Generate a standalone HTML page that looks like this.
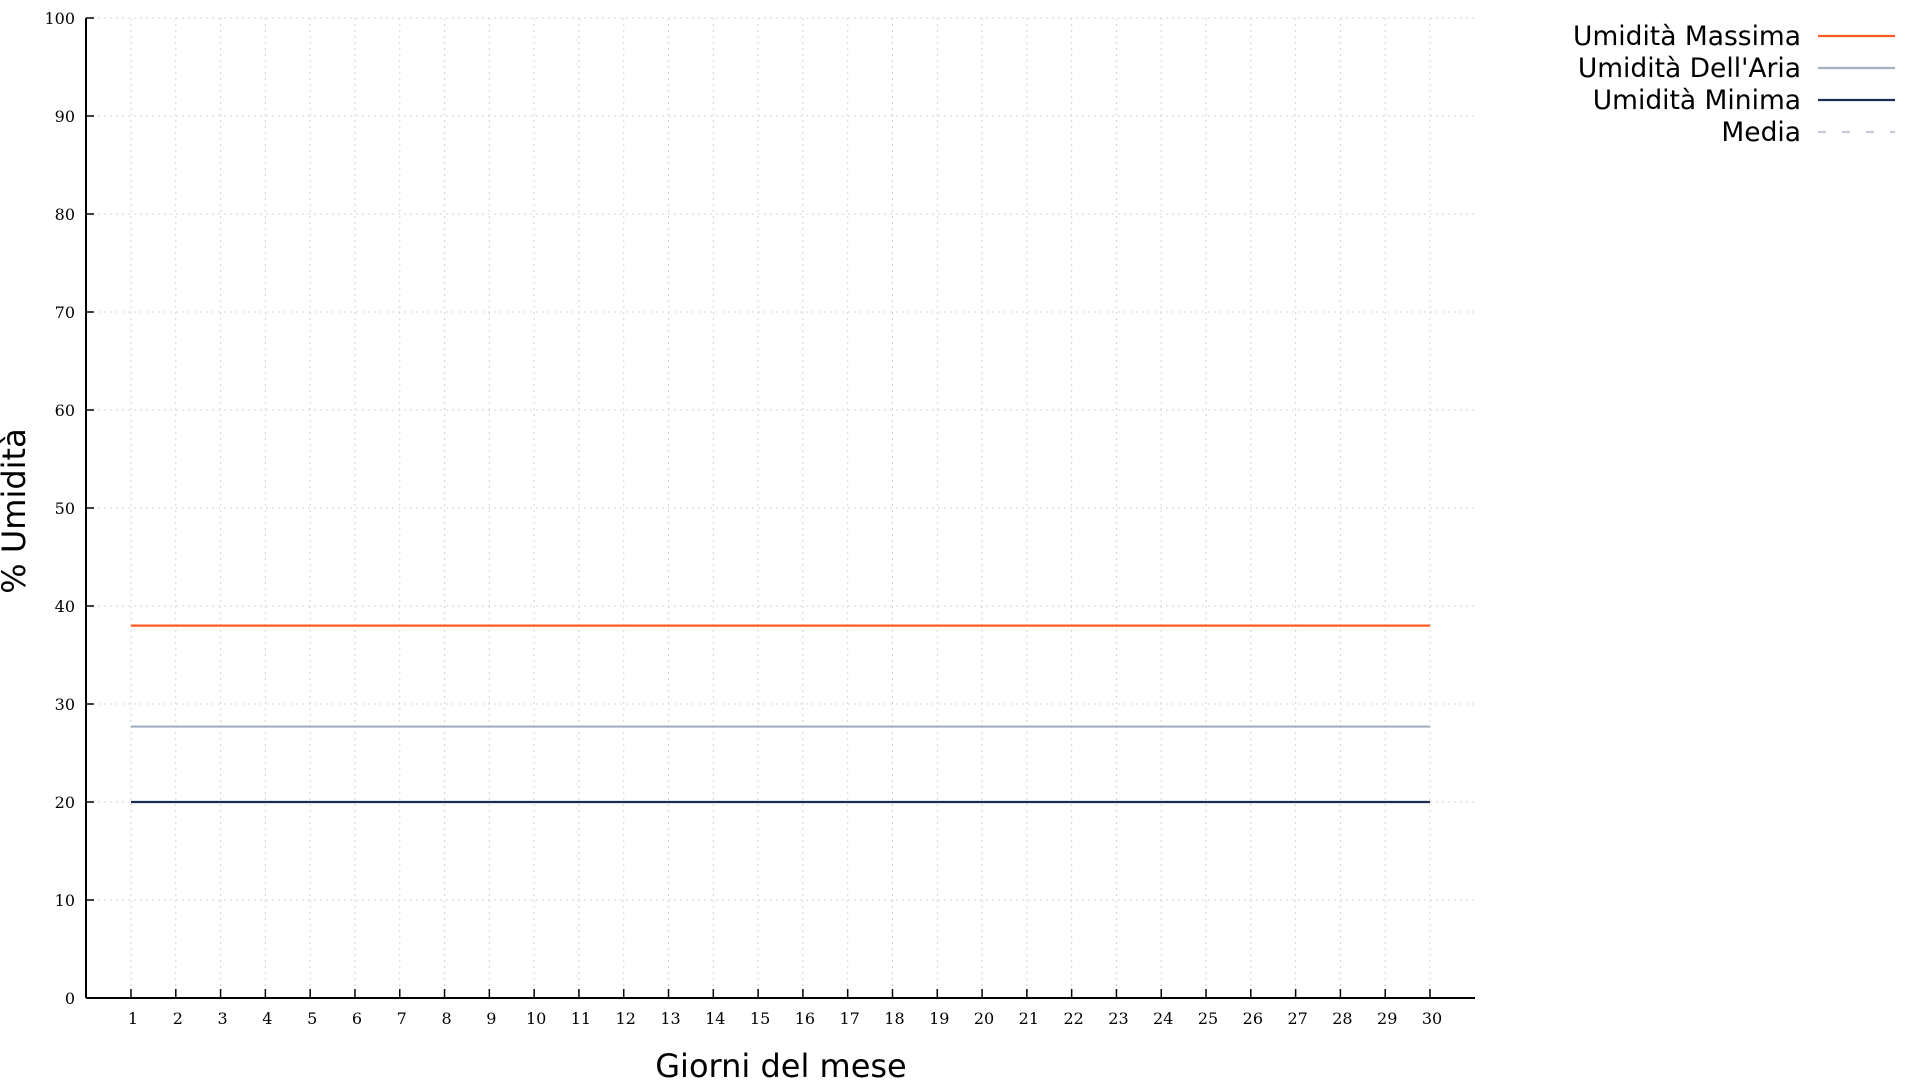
<!DOCTYPE html>
<html><head><meta charset="utf-8"><style>
body{margin:0;background:#fff;width:1920px;height:1080px;overflow:hidden}
svg{display:block}
</style></head><body>
<svg width="1920" height="1080" id="c">
<g id="grid"></g>
<g id="axes"></g>
<g id="series"></g>
<text x="0" y="0" transform="translate(25,511) rotate(-90)" text-anchor="middle" font-family="DejaVu Sans, sans-serif" font-size="32">% Umidità</text>
<text x="781" y="1077" text-anchor="middle" font-family="DejaVu Sans, sans-serif" font-size="32">Giorni del mese</text>
<g id="legend"></g>
</svg>
<script>
const days = Array.from({length:30},(_,i)=>i+1);
const yTicks = [0,10,20,30,40,50,60,70,80,90,100];
const seriesNames = ["Umidità Massima","Umidità Dell'Aria","Umidità Minima","Media"];
const maxVals = [38,38,38,38,38,38,38,38,38,38,38,38,38,38,38,38,38,38,38,38,38,38,38,38,38,38,38,38,38,38];
const airVals = [27.7,27.7,27.7,27.7,27.7,27.7,27.7,27.7,27.7,27.7,27.7,27.7,27.7,27.7,27.7,27.7,27.7,27.7,27.7,27.7,27.7,27.7,27.7,27.7,27.7,27.7,27.7,27.7,27.7,27.7];
const minVals = [20,20,20,20,20,20,20,20,20,20,20,20,20,20,20,20,20,20,20,20,20,20,20,20,20,20,20,20,20,20];
const NS="http://www.w3.org/2000/svg";
const L=86,R=1475,T=18,B=998;
const xs=d=>131+(d-1)*(1430-131)/29;
const ys=v=>B-(v/100)*(B-T);
function mk(t,a,p){const e=document.createElementNS(NS,t);for(const k in a)e.setAttribute(k,a[k]);p.appendChild(e);return e;}
const grid=document.getElementById('grid'),axes=document.getElementById('axes'),ser=document.getElementById('series'),leg=document.getElementById('legend');
yTicks.forEach(v=>{
 const g=mk('line',{x1:L,x2:R,y1:ys(v),y2:ys(v),stroke:'#d4d4d4','stroke-dasharray':'2,4','stroke-width':1},grid);
 
 
 const tk=mk('line',{x1:L,x2:L+8,y1:ys(v),y2:ys(v),stroke:'#000','stroke-width':1.5},axes);
 
 
 const t=mk('text',{x:75,y:ys(v)+6,'text-anchor':'end','font-family':'DejaVu Serif, Liberation Serif, serif','font-size':16},axes);
 t.textContent=v;
 
 
});
days.forEach(d=>{
 const g=mk('line',{x1:xs(d),x2:xs(d),y1:T,y2:B,stroke:'#d4d4d4','stroke-dasharray':'2,4','stroke-width':1},grid);
 
 
 const tk=mk('line',{x1:xs(d),x2:xs(d),y1:B,y2:B-9,stroke:'#000','stroke-width':1.5},axes);
 
 
 const t=mk('text',{x:xs(d)+2,y:B+26,'text-anchor':'middle','font-family':'DejaVu Serif, Liberation Serif, serif','font-size':16},axes);
 t.textContent=d;
 
 
});
const ya=mk('line',{x1:L,x2:L,y1:T,y2:B,stroke:'#000','stroke-width':2},axes);


const xa=mk('line',{x1:L,x2:R,y1:B,y2:B,stroke:'#000','stroke-width':2},axes);


const defs=[[maxVals,'#ff5a1f','line-max'],[airVals,'#a0b0c0','line-air'],[minVals,'#1a2e55','line-min']];
defs.forEach(([vals,col,nm])=>{
 const p=mk('polyline',{points:vals.map((v,i)=>xs(days[i])+','+ys(v)).join(' '),fill:'none',stroke:col,'stroke-width':2.2},ser);
 
 
});
const legCols=['#ff5a1f','#a0b0c0','#1a2e55','#c8ccd6'];
seriesNames.forEach((n,i)=>{
 const y=36+i*32;
 const t=mk('text',{x:1801,y:y+9,'text-anchor':'end','font-family':'DejaVu Sans, sans-serif','font-size':26.5},leg);
 t.textContent=n;
 
 
 const a={x1:1818,x2:1895,y1:y,y2:y,stroke:legCols[i],'stroke-width':2.2};
 if(i==3)a['stroke-dasharray']='8,16';
 const l=mk('line',a,leg);
 
 
});
</script>
</body></html>
